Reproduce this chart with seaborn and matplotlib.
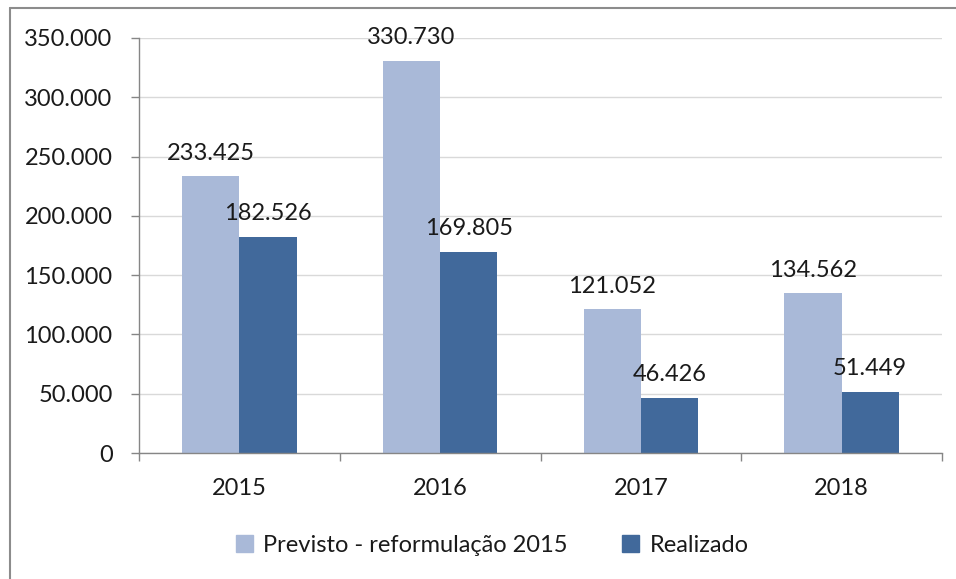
import matplotlib
matplotlib.use("Agg")
import matplotlib.pyplot as plt
import seaborn as sns
import pandas as pd
from matplotlib.ticker import FixedLocator, FuncFormatter
from matplotlib.lines import Line2D

years = ["2015", "2016", "2017", "2018"]
previsto = [233425, 330730, 121052, 134562]
realizado = [182526, 169805, 46426, 51449]
series_names = ["Previsto - reformulação 2015", "Realizado"]
colors = ["#A9B9D8", "#41699B"]

df = pd.DataFrame({
    "ano": years * 2,
    "valor": previsto + realizado,
    "serie": [series_names[0]] * 4 + [series_names[1]] * 4,
})

sns.set_theme(style="white")
plt.rcParams["font.family"] = ["Lato", "DejaVu Sans"]
FS = 17

fig = plt.figure(figsize=(9.56, 5.79), dpi=100)
ax = fig.add_axes([139 / 956, 1 - 453 / 579, (942 - 139) / 956, (453 - 38) / 579])

sns.barplot(data=df, x="ano", y="valor", hue="serie", palette=colors,
            width=0.57, saturation=1, ax=ax, legend=False, linewidth=0)

fmt = lambda v: f"{v:,.0f}".replace(",", ".")
for cont in ax.containers:
    ax.bar_label(cont, labels=[fmt(b.get_height()) for b in cont],
                 padding=9, fontsize=FS, color="#1a1a1a")

ax.set_ylim(0, 350000)
ax.set_xlim(-0.5, 3.5)
ax.set_yticks(range(0, 350001, 50000))
ax.yaxis.set_major_formatter(FuncFormatter(lambda v, p: fmt(v)))
ax.xaxis.set_major_locator(FixedLocator([-0.5, 0.5, 1.5, 2.5, 3.5]))
ax.xaxis.set_major_formatter(FuncFormatter(lambda v, p: ""))
ax.xaxis.set_minor_locator(FixedLocator([0, 1, 2, 3]))
ax.set_xticklabels(years, minor=True)
ax.tick_params(axis="x", which="minor", length=0, pad=18, labelsize=FS, labelcolor="#1a1a1a")
ax.tick_params(axis="x", which="major", length=6, width=1, color="#868686", direction="out", bottom=True)
ax.tick_params(axis="y", length=6, width=1, color="#868686", direction="out", left=True,
               pad=13, labelsize=FS, labelcolor="#1a1a1a")
ax.set_xlabel("")
ax.set_ylabel("")
ax.yaxis.grid(True, color="#D9D9D9", linewidth=1)
ax.set_axisbelow(True)
for s in ["top", "right"]:
    ax.spines[s].set_visible(False)
for s in ["left", "bottom"]:
    ax.spines[s].set_color("#868686")
    ax.spines[s].set_linewidth(1)

handles = [plt.Rectangle((0, 0), 1, 1, color=c) for c in colors]
fig.legend(handles, series_names, loc="center", bbox_to_anchor=(0.515, 1 - 545 / 579),
           ncol=2, frameon=False, fontsize=FS, handlelength=0.7, handleheight=0.7,
           handletextpad=0.45, columnspacing=2.3, labelcolor="#1a1a1a")

# outer chart border (top and left visible in the crop)
fig.add_artist(Line2D([10 / 956, 10 / 956], [0, 1 - 8 / 579], transform=fig.transFigure,
                      color="#8C8C8C", linewidth=1.5))
fig.add_artist(Line2D([10 / 956, 1], [1 - 8 / 579, 1 - 8 / 579], transform=fig.transFigure,
                      color="#8C8C8C", linewidth=1.5))

fig.savefig("out.png", dpi=100)
